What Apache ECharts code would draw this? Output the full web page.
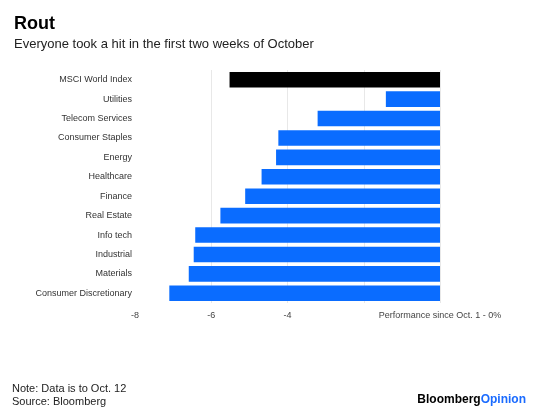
<!DOCTYPE html>
<html><head><meta charset="utf-8">
<script src="https://cdn.jsdelivr.net/npm/echarts@6/dist/echarts.min.js"></script>
<style>html,body{margin:0;padding:0;background:#fff}#c{width:560px;height:414px}</style>
</head><body><div id="c"></div>
<script>
const categories = ["MSCI World Index","Utilities","Telecom Services","Consumer Staples","Energy","Healthcare","Finance","Real Estate","Info tech","Industrial","Materials","Consumer Discretionary"];
const values = [-5.52,-1.42,-3.21,-4.24,-4.30,-4.68,-5.11,-5.76,-6.42,-6.46,-6.59,-7.10];
const highlight = "MSCI World Index";
const xTicks = {"-8":"-8","-6":"-6","-4":"-4","-2":"","0":"Performance since Oct. 1 - 0%"};

const chart = echarts.init(document.getElementById('c'), null, {renderer:'canvas'});
const font = 'Helvetica, "Liberation Sans", Arial, sans-serif';
chart.setOption({
  animation:false,
  textStyle:{fontFamily:font},
  title:[
    {text:'Rout', left:9, top:10, textStyle:{fontSize:18, fontWeight:'bold', color:'#000', fontFamily:font}},
    {text:'Everyone took a hit in the first two weeks of October', left:9, top:33, textStyle:{fontSize:13, fontWeight:'normal', color:'#222', fontFamily:font}}
  ],
  graphic:[
    {type:'text', left:12, top:382, style:{text:'Note: Data is to Oct. 12\nSource: Bloomberg', fontSize:11, lineHeight:13, fill:'#222', fontFamily:font}},
    {type:'text', right:34, top:394, style:{rich:{a:{fontSize:12, fontWeight:'bold', fill:'#000', fontFamily:font},b:{fontSize:12, fontWeight:'bold', fill:'#1a6bff', fontFamily:font}}, text:'{a|Bloomberg}{b|Opinion}'}}
  ],
  grid:{left:135, right:120, top:70, height:233, containLabel:false},
  xAxis:{type:'value', min:-8, max:0, interval:2,
    axisLine:{show:false}, axisTick:{show:false},
    splitLine:{show:true, showMinLine:false, lineStyle:{color:'#e8e8e8', width:1}},
    axisLabel:{fontSize:9, color:'#444', margin:8, formatter:v=>xTicks[String(v)] ?? String(v)}
  },
  yAxis:{type:'category', data:categories, inverse:true,
    axisLine:{show:false}, axisTick:{show:false},
    axisLabel:{fontSize:9, color:'#333', margin:3}
  },
  series:[{type:'bar', barCategoryGap:'20%',
    data:values.map((v,i)=>({value:v, itemStyle:{color: categories[i]===highlight ? '#000000' : '#0a6cff'}}))
  }]
});
</script></body></html>
